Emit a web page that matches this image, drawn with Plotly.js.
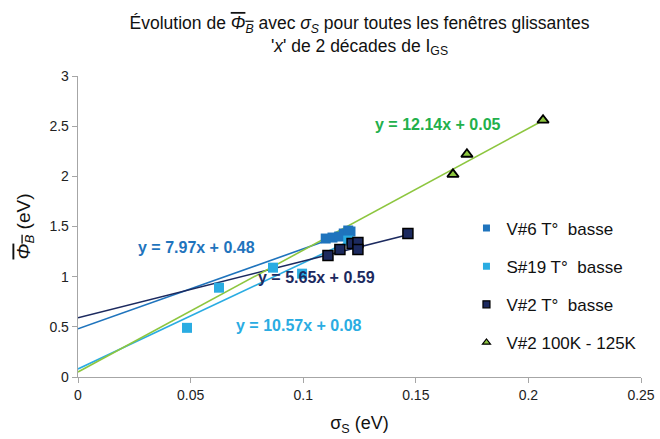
<!DOCTYPE html>
<html>
<head>
<meta charset="utf-8">
<script src="https://cdn.plot.ly/plotly-3.0.1.min.js"></script>
<style>html,body{margin:0;padding:0;background:#fff;}#chart{width:660px;height:439px;}</style>
</head>
<body>
<div id="chart"></div>
<script>
// Series names
const seriesNames = ["V#6 T°  basse", "S#19 T°  basse", "V#2 T°  basse", "V#2 100K - 125K"];

// V#6 T° basse
const v6X = [0.110, 0.113, 0.116, 0.118, 0.120, 0.121];
const v6Y = [1.38, 1.39, 1.40, 1.43, 1.46, 1.45];

// S#19 T° basse
const s19X = [0.0484, 0.0626, 0.0866, 0.0995, 0.120];
const s19Y = [0.49, 0.89, 1.09, 1.03, 1.36];

// V#2 T° basse
const v2X = [0.111, 0.1163, 0.1217, 0.1243, 0.1243, 0.1465];
const v2Y = [1.21, 1.27, 1.33, 1.34, 1.27, 1.43];

// V#2 100K - 125K
const v2hX = [0.1665, 0.1727, 0.2065];
const v2hY = [2.02, 2.22, 2.56];

// Linear trendlines (Excel) : slope / intercept
const trendSlope = [7.97, 10.57, 5.65, 12.14];
const trendIntercept = [0.48, 0.08, 0.59, 0.05];
const trendLabels = ["y = 7.97x + 0.48", "y = 10.57x + 0.08", "y = 5.65x + 0.59", "y = 12.14x + 0.05"];

const xsAll = [v6X, s19X, v2X, v2hX];
const ysAll = [v6Y, s19Y, v2Y, v2hY];

const markerColors = ["#1F74BD", "#2AACE2", "#1C2A5F", "#8DC63F"];
const lineColors = ["#1F74BD", "#2AACE2", "#1C2A5F", "#8DC63F"];
const textColors = ["#1F74BD", "#2AACE2", "#1C2A5F", "#22B04B"];
const symbols = ["square", "square", "square", "triangle-up"];
const borderColors = ["#1F74BD", "#2AACE2", "#000000", "#000000"];
const borderWidths = [0, 0, 1.5, 1.8];

const traces = [];
// trendlines first (below markers)
for (let i = 0; i < 4; i++) {
  const xmax = Math.max(...xsAll[i]);
  traces.push({
    x: [0, xmax],
    y: [trendIntercept[i], trendSlope[i] * xmax + trendIntercept[i]],
    mode: "lines",
    line: {color: lineColors[i], width: 1.6},
    showlegend: false,
    hoverinfo: "skip"
  });
}
for (let i = 0; i < 4; i++) {
  traces.push({
    x: xsAll[i],
    y: ysAll[i],
    mode: "markers",
    name: seriesNames[i],
    legendgroup: "g" + i,
    showlegend: false,
    marker: {
      symbol: symbols[i],
      color: markerColors[i],
      size: 10,
      line: {color: borderColors[i], width: borderWidths[i]}
    }
  });
}
// legend entries (smaller symbols, as in the reference legend)
for (let i = 0; i < 4; i++) {
  traces.push({
    x: [null], y: [null],
    mode: "markers",
    name: seriesNames[i],
    legendgroup: "g" + i,
    showlegend: true,
    marker: {
      symbol: symbols[i],
      color: markerColors[i],
      size: 7,
      line: {color: borderColors[i], width: borderWidths[i] ? 1.2 : 0}
    }
  });
}

const annPos = [[0.0524, 1.29], [0.0981, 0.51], [0.1061, 0.99], [0.1599, 2.52]];
const annotations = trendLabels.map((t, i) => ({
  x: annPos[i][0], y: annPos[i][1], xref: "x", yref: "y",
  text: "<b>" + t + "</b>", showarrow: false,
  font: {family: "Liberation Sans, Arial, sans-serif", size: 16, color: textColors[i]}
}));

const layout = {
  width: 660, height: 439,
  margin: {l: 78, r: 19, t: 76, b: 62},
  paper_bgcolor: "#fff", plot_bgcolor: "#fff",
  font: {family: "Liberation Sans, Arial, sans-serif", size: 14, color: "#222"},
  title: {
    text: 'Évolution de <span style="text-decoration:overline"><i>Φ</i><sub><i>B</i></sub></span> avec <i>σ</i><sub><i>S</i></sub> pour toutes les fenêtres glissantes<br>\'<i>x</i>\' de 2 décades de I<sub>GS</sub>',
    font: {family: "Liberation Sans, Arial, sans-serif", size: 17.5, color: "#111"},
    x: 0.5, xref: "paper", xanchor: "center",
    y: 0.934, yref: "container", yanchor: "top"
  },
  xaxis: {
    range: [0, 0.25], dtick: 0.05, tick0: 0,
    showgrid: false, zeroline: false,
    showline: true, linecolor: "#A6A6A6", linewidth: 1.3,
    ticks: "outside", ticklen: 5, tickcolor: "#A6A6A6",
    tickfont: {size: 14, color: "#222"},
    title: {text: "σ<sub>S</sub> (eV)", font: {size: 18, color: "#111"}, standoff: 14}
  },
  yaxis: {
    range: [0, 3], dtick: 0.5, tick0: 0,
    showgrid: false, zeroline: false,
    showline: true, linecolor: "#A6A6A6", linewidth: 1.3,
    ticks: "outside", ticklen: 5, tickcolor: "#A6A6A6",
    tickfont: {size: 14, color: "#222"},
    title: {text: '<span style="text-decoration:overline"><i>Φ</i><sub><i>B</i></sub></span> (eV)', font: {size: 19, color: "#111"}, standoff: 13}
  },
  legend: {
    x: 0.69, y: 0.553, xanchor: "left", yanchor: "top",
    bgcolor: "rgba(0,0,0,0)",
    tracegroupgap: 13,
    font: {size: 17, color: "#111"}
  },
  annotations: annotations,
  showlegend: true
};

Plotly.newPlot("chart", traces, layout, {displayModeBar: false, staticPlot: true});
</script>
</body>
</html>
